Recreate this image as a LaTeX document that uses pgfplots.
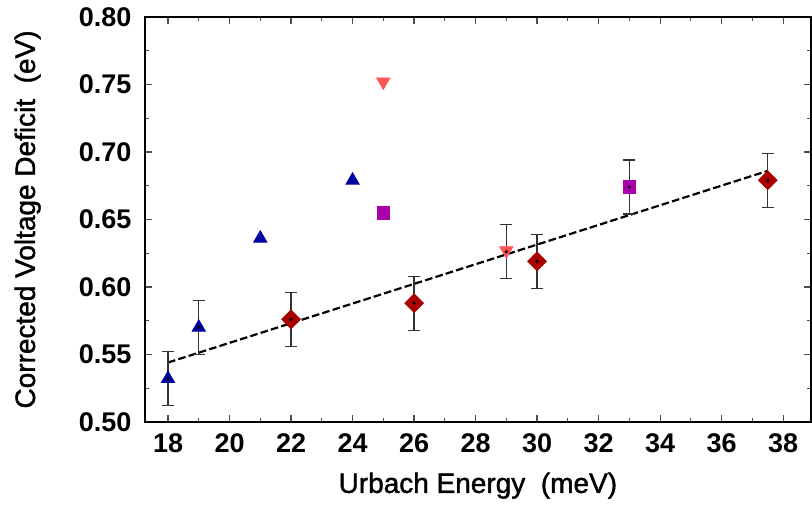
\documentclass[border=0pt]{standalone}
\usepackage{fontspec}
\setmainfont{Liberation Sans}
\newfontfamily\labelfont[FakeBold=1.4]{Liberation Sans}
\usepackage{pgfplots}
\pgfplotsset{compat=1.18}
\definecolor{triblue}{HTML}{0000A0}
\definecolor{salmon}{HTML}{FF5555}
\definecolor{magent}{HTML}{AA00AA}
\definecolor{darkred}{HTML}{AA0000}
\definecolor{errgray}{HTML}{333333}
\begin{document}
\begin{tikzpicture}
\begin{axis}[
  scale only axis,
  width=333pt, height=202.5pt,
  xmin=17.25, xmax=38.9,
  ymin=0.50, ymax=0.80,
  xtick={18,20,...,38},
  minor xtick={19,21,...,37},
  ytick={0.50,0.55,...,0.80},
  minor ytick={0.525,0.575,...,0.775},
  yticklabel style={/pgf/number format/fixed,/pgf/number format/fixed zerofill,/pgf/number format/precision=2},
  /pgf/number format/assume math mode=true,
  tick align=inside,
  major tick length=3.5pt,
  minor tick length=2pt,
  tick style={line width=0.6pt, black!70},
  axis line style={line width=1.2pt},
  ticklabel style={font=\fontsize{13.5}{15}\selectfont\bfseries},
  xticklabel style={anchor=base, yshift=-15.5pt},
  yticklabel style={anchor=east, inner xsep=0pt, xshift=-6.6pt},
  xlabel={Urbach Energy\ \ (meV)},
  ylabel={Corrected Voltage Deficit\ \ (eV)},
  label style={font=\labelfont\fontsize{14}{16}\selectfont},
  xlabel style={at={(axis description cs:0.5,-0.1753)}, anchor=base},
  ylabel style={at={(axis description cs:-0.1652,0.5)}, anchor=base},
  clip=false,
]
% overall frame of the figure
\path (axis description cs:-0.2177,-0.1975) rectangle (axis description cs:1.0015,1.042);

% fitted trend
\addplot[black, line width=1.1pt, dash pattern=on 3.8pt off 1.6pt] coordinates {(18,0.544) (37.5,0.686)};

% series markers
\addplot[only marks, mark=triangle*, mark size=3.8pt, color=triblue] coordinates {
  (18,0.532) (19,0.570) (21,0.636) (24,0.679)};
\addplot[only marks, mark=triangle*, mark size=3.8pt, mark options={rotate=180}, color=salmon] coordinates {
  (25,0.752) (29,0.627)};
\addplot[only marks, mark=square*, mark size=3.2pt, color=magent] coordinates {
  (25,0.655) (33,0.674)};
\addplot[only marks, mark=square*, mark size=3.3pt, mark options={rotate=45}, color=darkred] coordinates {
  (22,0.576) (26,0.588) (30,0.619) (37.5,0.679)};

% error bars
\addplot[only marks, mark=*, mark size=0.6pt, black,
  error bars/.cd, y dir=both, y explicit,
  error bar style={line width=0.6pt, errgray},
  error mark options={rotate=90, mark size=3pt, line width=0.6pt, errgray}]
  coordinates {
  (18,0.532) +- (0,0.020)
  (19,0.570) +- (0,0.020)
  (22,0.576) +- (0,0.020)
  (26,0.588) +- (0,0.020)
  (29,0.626) +- (0,0.020)
  (30,0.619) +- (0,0.020)
  (33,0.674) +- (0,0.020)
  (37.5,0.679) +- (0,0.020)};
\end{axis}
\end{tikzpicture}
\end{document}
